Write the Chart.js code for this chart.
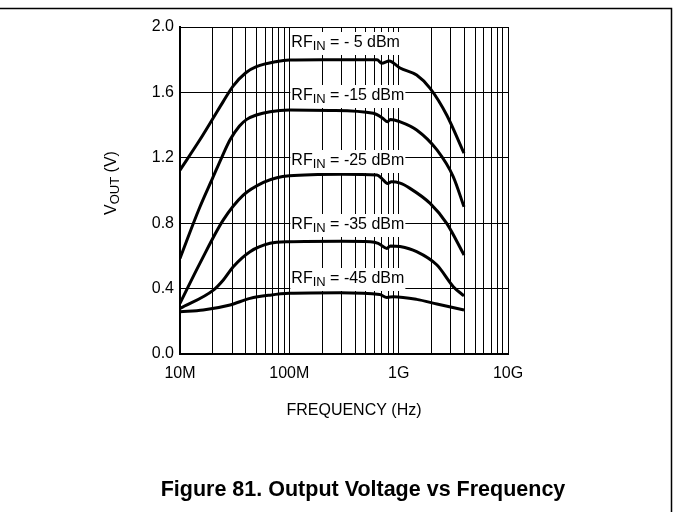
<!DOCTYPE html>
<html>
<head>
<meta charset="utf-8">
<script src="https://cdn.jsdelivr.net/npm/chart.js@4.4.0/dist/chart.umd.min.js"></script>
<style>
  html, body { margin: 0; padding: 0; background: #fff; }
  canvas { display: block; }
</style>
</head>
<body>
<canvas id="vout-chart" width="673" height="512"></canvas>
<script>
// frequency in MHz, output voltage in V
const freqM5 = [10, 15.2, 20, 24.9, 30.7, 40, 50, 77, 100, 200, 400, 634, 700, 820, 1030, 1460, 1940, 2750, 3960];
const voutM5 = [1.125, 1.31, 1.44, 1.545, 1.64, 1.72, 1.757, 1.789, 1.798, 1.80, 1.80, 1.80, 1.778, 1.792, 1.749, 1.706, 1.625, 1.462, 1.228];

const freqM15 = [10, 15, 20, 24, 28.7, 35, 40.8, 50, 66.6, 100, 236, 587, 720, 790, 840, 1030, 1460, 2240, 3160, 3960];
const voutM15 = [0.585, 0.89, 1.08, 1.2, 1.31, 1.395, 1.435, 1.462, 1.482, 1.492, 1.49, 1.472, 1.44, 1.42, 1.435, 1.42, 1.37, 1.248, 1.084, 0.90];

const freqM25 = [10, 15.2, 24.9, 37.9, 57.9, 77, 100, 300, 634, 700, 790, 860, 1030, 1270, 1940, 2750, 3960];
const voutM25 = [0.31, 0.554, 0.82, 0.972, 1.05, 1.078, 1.09, 1.10, 1.095, 1.074, 1.043, 1.053, 1.045, 1.013, 0.921, 0.799, 0.606];

const freqM35 = [10, 20.2, 24.9, 30.7, 43.7, 66.6, 100, 300, 550, 650, 780, 840, 1030, 1460, 2240, 3160, 3960];
const voutM35 = [0.279, 0.391, 0.453, 0.534, 0.626, 0.677, 0.687, 0.69, 0.687, 0.677, 0.646, 0.661, 0.657, 0.626, 0.544, 0.412, 0.355];

const freqM45 = [10, 16.3, 28.7, 43.7, 66.6, 100, 290, 670, 780, 900, 1460, 2240, 3960];
const voutM45 = [0.259, 0.269, 0.30, 0.34, 0.36, 0.371, 0.375, 0.364, 0.346, 0.35, 0.334, 0.306, 0.269];

const seriesLabels = [' = - 5 dBm', ' = -15 dBm', ' = -25 dBm', ' = -35 dBm', ' = -45 dBm'];
const decadeValues = [10, 100, 1000, 10000];
const decadeNames = ['10M', '100M', '1G', '10G'];
const yTickValues = [0, 0.4, 0.8, 1.2, 1.6, 2.0];

// where the RF_IN labels sit (x in MHz, y in V)
const labelX = 100;
const labelY = [1.914, 1.589, 1.191, 0.804, 0.472];

const FONT = "'Liberation Sans', Arial, sans-serif";

function toPoints(xs, ys) {
  return xs.map((x, i) => ({x: x, y: ys[i]}));
}

const curves = [
  toPoints(freqM5, voutM5),
  toPoints(freqM15, voutM15),
  toPoints(freqM25, voutM25),
  toPoints(freqM35, voutM35),
  toPoints(freqM45, voutM45),
];

// draws text made of pieces: [{t, size, dy, bold}], returns width
function drawParts(ctx, x, y, parts, measureOnly) {
  let cx = x;
  parts.forEach((p) => {
    ctx.font = (p.bold ? 'bold ' : '') + p.size + 'px ' + FONT;
    if (!measureOnly) ctx.fillText(p.t, cx, y + (p.dy || 0));
    cx += ctx.measureText(p.t).width;
  });
  return cx - x;
}

const textPlugin = {
  id: 'figureText',
  afterDatasetsDraw(chart) {
    const {ctx, scales: {x, y}} = chart;
    ctx.save();
    ctx.textBaseline = 'alphabetic';
    ctx.textAlign = 'left';
    const left = x.getPixelForValue(labelX) + 1;
    seriesLabels.forEach((lab, i) => {
      const base = Math.round(y.getPixelForValue(labelY[i])) + 6;
      const parts = [{t: 'RF', size: 16}, {t: 'IN', size: 13, dy: 3}, {t: lab, size: 16}];
      const w = drawParts(ctx, 0, 0, parts, true);
      ctx.fillStyle = '#fff';
      ctx.fillRect(left, base - 15, w + 2, 23);
      ctx.fillStyle = '#000';
      drawParts(ctx, left + 1, base, parts, false);
    });
    ctx.restore();
  },
  afterDraw(chart) {
    const {ctx} = chart;
    ctx.save();
    ctx.fillStyle = '#000';
    ctx.textBaseline = 'alphabetic';
    ctx.textAlign = 'left';

    // y axis title, rotated
    const yParts = [{t: 'V', size: 16}, {t: 'OUT', size: 13, dy: 3}, {t: ' (V)', size: 16}];
    const yw = drawParts(ctx, 0, 0, yParts, true);
    ctx.translate(116, 183);
    ctx.rotate(-Math.PI / 2);
    drawParts(ctx, -yw / 2, 0, yParts, false);
    ctx.setTransform(1, 0, 0, 1, 0, 0);

    // x axis title
    ctx.font = '16px ' + FONT;
    ctx.textAlign = 'center';
    ctx.fillText('FREQUENCY (Hz)', 354, 415);

    // figure caption
    ctx.font = 'bold 21.5px ' + FONT;
    ctx.fillText('Figure 81. Output Voltage vs Frequency', 363, 496);

    // page frame (top and right rule)
    ctx.strokeStyle = '#000';
    ctx.lineWidth = 1.5;
    ctx.beginPath();
    ctx.moveTo(0, 8.5);
    ctx.lineTo(671.5, 8.5);
    ctx.lineTo(671.5, 512);
    ctx.stroke();
    ctx.restore();
  }
};

new Chart(document.getElementById('vout-chart'), {
  type: 'line',
  data: {
    datasets: curves.map((pts, i) => ({
      label: 'RFIN' + seriesLabels[i],
      data: pts,
      borderColor: '#000',
      borderWidth: 3,
      pointRadius: 0,
      fill: false,
      cubicInterpolationMode: 'monotone',
    })),
  },
  options: {
    responsive: false,
    animation: false,
    layout: {padding: {left: 0, right: 165, top: 27, bottom: 0}},
    plugins: {
      legend: {display: false},
      tooltip: {enabled: false},
      title: {display: false},
    },
    scales: {
      x: {
        type: 'logarithmic',
        min: 10,
        max: 10000,
        afterBuildTicks: (scale) => {
          const ticks = [];
          decadeValues.slice(0, -1).forEach((d) => {
            for (let m = 1; m < 10; m++) ticks.push({value: d * m});
          });
          ticks.push({value: decadeValues[decadeValues.length - 1]});
          scale.ticks = ticks;
        },
        afterFit: (scale) => { scale.height = 158; },
        grid: {color: '#000', lineWidth: 1, drawTicks: false},
        border: {color: '#000', width: 2},
        ticks: {
          autoSkip: false,
          maxRotation: 0,
          padding: 10,
          color: '#000',
          font: {family: FONT, size: 16},
          callback: (value) => {
            const k = decadeValues.indexOf(value);
            return k >= 0 ? decadeNames[k] : '';
          },
        },
      },
      y: {
        min: 0,
        max: 2,
        afterBuildTicks: (scale) => {
          scale.ticks = yTickValues.map((v) => ({value: v}));
        },
        afterFit: (scale) => { scale.width = 180; },
        grid: {color: '#000', lineWidth: 1, drawTicks: false},
        border: {color: '#000', width: 2},
        ticks: {
          padding: 6,
          color: '#000',
          font: {family: FONT, size: 16},
          callback: (value) => Number(value).toFixed(1),
        },
      },
    },
  },
  plugins: [textPlugin],
});
</script>
</body>
</html>
